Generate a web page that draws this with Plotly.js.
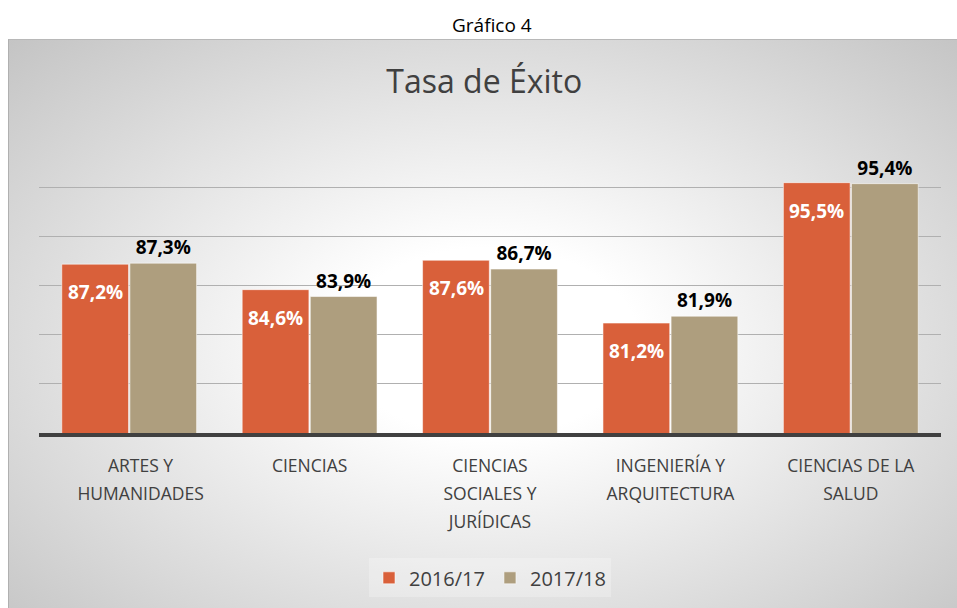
<!DOCTYPE html>
<html>
<head>
<meta charset="utf-8">
<script src="https://cdn.plot.ly/plotly-3.0.1.min.js"></script>
<style>
  html, body { margin:0; padding:0; background:#ffffff; }
  #wrap { position:relative; width:957px; height:608px; overflow:hidden; }
  #box { position:absolute; left:8px; top:39px; width:960px; height:580px;
         border-top:1px solid #b8b8b8; border-left:1px solid #b0b0b0;
         background: radial-gradient(ellipse farthest-corner at 50% 52%, #ffffff 0%, #ffffff 22%, #c4c4c4 100%); }
  #chart { position:absolute; left:0; top:0; width:957px; height:608px; }
</style>
</head>
<body>
<div id="wrap">
  <div id="box"></div>
  <div id="chart"></div>
</div>
<script>
const categories = ["ARTES Y<br>HUMANIDADES", "CIENCIAS", "CIENCIAS<br>SOCIALES Y<br>JURÍDICAS", "INGENIERÍA Y<br>ARQUITECTURA", "CIENCIAS DE LA<br>SALUD"];
const seriesNames = ["2016/17", "2017/18"];
const values1617 = [87.2, 84.6, 87.6, 81.2, 95.5];
const values1718 = [87.3, 83.9, 86.7, 81.9, 95.4];
const yTicks = [70, 75, 80, 85, 90, 95, 100];

const FONT = "Open Sans, Liberation Sans, sans-serif";
const cOrange = "#d9603a";
const cTan = "#ae9e7e";

// tick labels: smaller glyphs inside a larger line pitch; first label nudged right as in the original
const tickText = categories.map((c, i) => c.split("<br>")
  .map(l => '<span style="font-size:17.5px">' + (i === 0 ? '&nbsp;&nbsp;&nbsp;&nbsp;&nbsp;' : '') + l + '</span>').join("<br>"));

const traces = [
  {
    type: "bar", name: seriesNames[0], x: categories, y: values1617,
    marker: { color: cOrange, line: { color: "rgba(255,255,255,0.55)", width: 1 } },
    hoverinfo: "skip"
  },
  {
    type: "bar", name: seriesNames[1], x: categories, y: values1718,
    marker: { color: cTan, line: { color: "rgba(255,255,255,0.55)", width: 1 } },
    texttemplate: "%{y:.1f}%", textposition: "outside", cliponaxis: false,
    textfont: { family: FONT, size: 19, color: "#000000", weight: 700 },
    hoverinfo: "skip"
  }
];

const annotations = values1617.map((v, i) => ({
  x: categories[i], y: v, xref: "x", yref: "y",
  text: "<b>" + v.toFixed(1).replace(".", ",") + "%</b>",
  showarrow: false, xshift: -34, yshift: -28,
  font: { family: FONT, size: 19, color: "#ffffff" }
}));
annotations.push({
  text: "Gráfico 4", xref: "paper", yref: "paper", x: 0.502, y: 1, yanchor: "middle",
  xanchor: "center", showarrow: false, yshift: 113,
  font: { family: FONT, size: 19, color: "#000000" }
});

const layout = {
  width: 957, height: 608,
  paper_bgcolor: "rgba(0,0,0,0)", plot_bgcolor: "rgba(0,0,0,0)",
  margin: { l: 39, r: 16, t: 138, b: 174 },
  separators: ",.",
  title: { text: "Tasa de Éxito", x: 0.506, xanchor: "center", y: 0.865, yanchor: "middle",
           font: { family: FONT, size: 32, color: "#404040" } },
  barmode: "group", bargap: 0.245, bargroupgap: 0.02,
  xaxis: { showgrid: false, showline: true, linecolor: "#404040", linewidth: 4,
           tickmode: "array", tickvals: categories, ticktext: tickText,
           tickfont: { family: FONT, size: 21.5, color: "#404040" }, ticks: "",
           ticklabelstandoff: 9, fixedrange: true },
  yaxis: { range: [70, 100.05], tickvals: yTicks, showticklabels: false, showgrid: true,
           gridcolor: "#b0b0b0", gridwidth: 1, zeroline: false, showline: false, fixedrange: true },
  showlegend: true,
  legend: { orientation: "h", x: 0.5, xanchor: "center", y: -0.42, yanchor: "top",
            font: { family: FONT, size: 20, color: "#404040" }, bgcolor: "rgba(255,255,255,0.25)",
            itemwidth: 30 },
  annotations: annotations
};

Plotly.newPlot("chart", traces, layout, { displayModeBar: false, staticPlot: true });
</script>
</body>
</html>
